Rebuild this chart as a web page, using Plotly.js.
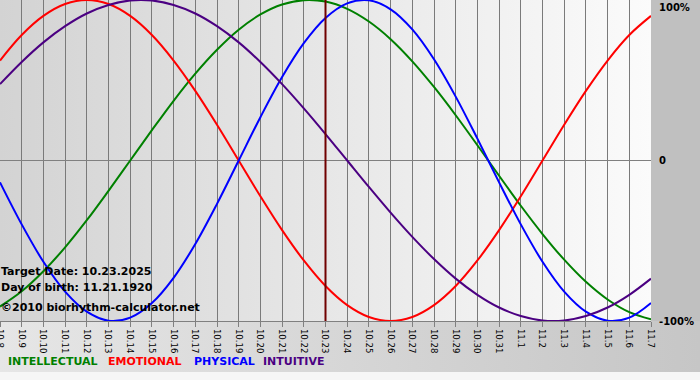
<!DOCTYPE html>
<html>
<head>
<meta charset="utf-8">
<script src="https://cdn.plot.ly/plotly-3.0.1.min.js"></script>
<style>html,body{margin:0;padding:0;background:#fff;}#chart{width:700px;height:380px;}</style>
</head>
<body>
<div id="chart"></div>
<script>
// ---- data (percent values per day) ----
const dates = ['10.8','10.9','10.10','10.11','10.12','10.13','10.14','10.15','10.16','10.17','10.18','10.19','10.20','10.21','10.22','10.23','10.24','10.25','10.26','10.27','10.28','10.29','10.30','10.31','11.1','11.2','11.3','11.4','11.5','11.6','11.7'];
const intellectual = [-91.0,-81.5,-69.0,-54.1,-37.2,-18.9,0,18.9,37.2,54.1,69.0,81.5,91.0,97.2,99.9,99.0,94.5,86.6,75.6,61.8,45.8,28.2,9.5,-9.5,-28.2,-45.8,-61.8,-75.6,-86.6,-94.5,-99.0];
const emotional = [62.3,78.2,90.1,97.5,100,97.5,90.1,78.2,62.3,43.4,22.3,0,-22.3,-43.4,-62.3,-78.2,-90.1,-97.5,-100,-97.5,-90.1,-78.2,-62.3,-43.4,-22.3,0,22.3,43.4,62.3,78.2,90.1];
const physical = [-13.6,-39.8,-63.1,-81.7,-94.2,-99.8,-97.9,-88.8,-73.1,-52.0,-27.0,0,27.0,52.0,73.1,88.8,97.9,99.8,94.2,81.7,63.1,39.8,13.6,-13.6,-39.8,-63.1,-81.7,-94.2,-99.8,-97.9,-88.8];
const intuitive = [47.6,61.4,73.6,83.7,91.6,96.9,99.7,99.7,96.9,91.6,83.7,73.6,61.4,47.6,32.5,16.5,0,-16.5,-32.5,-47.6,-61.4,-73.6,-83.7,-91.6,-96.9,-99.7,-99.7,-96.9,-91.6,-83.7,-73.6];
const seriesNames = ['INTELLECTUAL','EMOTIONAL','PHYSICAL','INTUITIVE'];
const seriesColors = ['#008000','#ff0000','#0000ff','#4b0082'];
const targetDate = '10.23';
const infoLines = ['Target Date: 10.23.2025','Day of birth: 11.21.1920','\u00A92010 biorhythm-calculator.net'];
const yLabels = ['100%','0','-100%'];
const yLabelVals = [100,0,-100];

// ---- geometry ----
const W = 700, H = 380, ML = 0, MR = 49, MT = 0, MB = 59;
const PW = W - ML - MR, PH = H - MT - MB;

// background image (plot gradient + panels)
function makeBg(){
  const c = document.createElement('canvas'); c.width = W; c.height = H;
  const ctx = c.getContext('2d');
  let g = ctx.createLinearGradient(0,0,W,0);
  g.addColorStop(0,'#e6e6e6'); g.addColorStop(1,'#c6c6c6');
  ctx.fillStyle = g; ctx.fillRect(0,PH,W,H-PH);
  ctx.fillStyle = '#f6f6f6'; ctx.fillRect(0,372,W,H-372);
  ctx.fillStyle = '#c0c0c0'; ctx.fillRect(PW,0,W-PW,PH);
  g = ctx.createLinearGradient(0,0,PW,0);
  g.addColorStop(0,'#d3d3d3'); g.addColorStop(1,'#fbfbfb');
  ctx.fillStyle = g; ctx.fillRect(0,0,PW,PH);
  return c.toDataURL('image/png');
}

const allSeries = [intellectual, emotional, physical, intuitive];
const traces = allSeries.map((s,i)=>({
  type:'scatter', mode:'lines', x:dates, y:s, name:seriesNames[i],
  line:{color:seriesColors[i], width:2, shape:'spline', smoothing:1},
  showlegend:false, hoverinfo:'skip'
}));

const boldFont = {family:'DejaVu Sans, Verdana, sans-serif', size:11, color:'#000'};
const annotations = [];
const infoY = [271, 287, 307];
infoLines.forEach((t,i)=>annotations.push({
  text:'<b>'+t+'</b>', xref:'paper', yref:'paper', x:0, y:(PH-infoY[i])/PH, xshift:-1,
  xanchor:'left', yanchor:'middle', showarrow:false, font:boldFont
}));
yLabels.forEach((t,i)=>annotations.push({
  text:'<b>'+t+'</b>', xref:'paper', yref:'y', x:1, y:yLabelVals[i], xshift:6,
  xanchor:'left', yanchor: i===0 ? 'top' : 'middle', showarrow:false,
  font:{family:'DejaVu Sans, Verdana, sans-serif', size:10, color:'#000'}
}));
const legendX = [6,106,192,261];
seriesNames.forEach((t,i)=>annotations.push({
  text:'<b>'+t+'</b>', xref:'paper', yref:'paper', x:legendX[i]/PW, y:(PH-361)/PH,
  xanchor:'left', yanchor:'middle', showarrow:false,
  font:{family:'DejaVu Sans, Verdana, sans-serif', size:11, color:seriesColors[i]}
}));

const layout = {
  width:W, height:H,
  margin:{l:ML, r:MR, t:MT, b:MB, pad:0},
  paper_bgcolor:'rgba(0,0,0,0)', plot_bgcolor:'rgba(0,0,0,0)',
  showlegend:false,
  xaxis:{type:'category', categoryarray:dates, range:[0,dates.length-1], fixedrange:true,
    showgrid:true, gridcolor:'#7a7a7a', gridwidth:1, zeroline:false,
    showline:true, linecolor:'#808080', linewidth:1,
    ticks:'outside', ticklen:5, tickcolor:'#808080', tickangle:90,
    tickfont:{family:'DejaVu Sans Condensed, DejaVu Sans, sans-serif', size:9.5, color:'#000'},
    automargin:false},
  yaxis:{range:[-100,100], fixedrange:true, showgrid:false, showticklabels:false, ticks:'',
    zeroline:true, zerolinecolor:'#808080', zerolinewidth:1, showline:false, automargin:false},
  shapes:[{type:'line', xref:'x', yref:'paper', x0:dates.indexOf(targetDate), x1:dates.indexOf(targetDate),
    y0:0, y1:1, line:{color:'#700000', width:2}, layer:'above'}],
  annotations:annotations,
  images:[{source:makeBg(), xref:'paper', yref:'paper', x:0, y:1, sizex:W/PW, sizey:H/PH,
    xanchor:'left', yanchor:'top', sizing:'stretch', layer:'below'}]
};

Plotly.newPlot('chart', traces, layout, {displayModeBar:false, staticPlot:true});
</script>
</body>
</html>
